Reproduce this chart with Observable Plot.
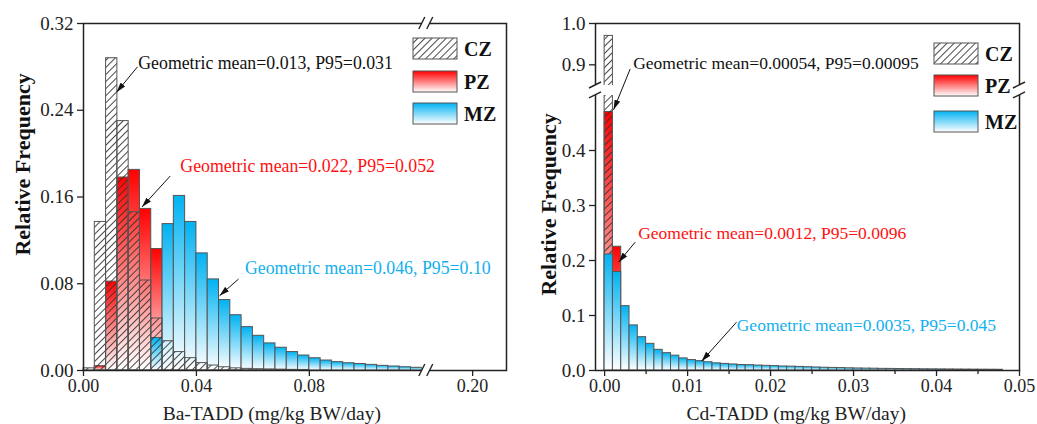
<!DOCTYPE html>
<html>
<head>
<meta charset="utf-8">
<script src="https://cdn.jsdelivr.net/npm/d3@7"></script>
<script src="https://cdn.jsdelivr.net/npm/@observablehq/plot@0.6"></script>
<style>
  html, body { margin: 0; padding: 0; background: #fff; }
  #wrap { position: relative; width: 1037px; height: 424px; overflow: hidden; }
  #left { position: absolute; left: 0; top: 0; }
  #right { position: absolute; left: 520px; top: 0; }
</style>
</head>
<body>
<div id="wrap"><div id="left"></div><div id="right"></div></div>
<script>
const FONT = "'Liberation Serif', 'Times New Roman', serif";

// ---------- Panel 1: Ba-TADD (bin width 0.004, starting at 0) ----------
const baBinWidth = 0.004;
const baCZ = [0.002, 0.137, 0.288, 0.230, 0.146, 0.083, 0.048, 0.027, 0.017, 0.0114, 0.0068, 0.0046, 0.003, 0.002, 0.0015, 0.0012, 0.001, 0.0008, 0.0006, 0.0005];
const baPZ = [0, 0.004, 0.082, 0.178, 0.185, 0.149, 0.112];
const baMZ = [0, 0, 0, 0, 0, 0, 0.030, 0.135, 0.161, 0.137, 0.108, 0.084, 0.065, 0.051, 0.040, 0.032, 0.025, 0.021, 0.017, 0.0138, 0.0113, 0.0092, 0.0077, 0.0067, 0.006, 0.0052, 0.0043, 0.0037, 0.003, 0.0025];
const baXTicks = [0, 0.04, 0.08, 0.20];
const baYTicks = [0, 0.08, 0.16, 0.24, 0.32];
const baBreak = [0.12, 0.185];   // x-axis break (values hidden between)
const baNotes = [
  {x: 0.0194, y: 0.2832, text: "Geometric mean=0.013, P95=0.031", color: "#111111"},
  {x: 0.0343, y: 0.1885, text: "Geometric mean=0.022, P95=0.052", color: "#ff1010"},
  {x: 0.0572, y: 0.0938, text: "Geometric mean=0.046, P95=0.10", color: "#12b0f0"}
];
const baArrows = [
  {x1: 0.0191, y1: 0.2800, x2: 0.0117, y2: 0.2566},
  {x1: 0.0307, y1: 0.1793, x2: 0.0207, y2: 0.1508},
  {x1: 0.0549, y1: 0.0843, x2: 0.0482, y2: 0.0690}
];

// ---------- Panel 2: Cd-TADD (bin width 0.001, starting at 0) ----------
const cdBinWidth = 0.001;
const cdCZ = [0.97];
const cdPZ = [0.47, 0.225];
const cdMZ = [0.211, 0.179, 0.117, 0.082, 0.0606, 0.0485, 0.0376, 0.0315, 0.027, 0.022, 0.019, 0.017, 0.015, 0.013, 0.012, 0.011, 0.010, 0.0097, 0.009, 0.0085, 0.008, 0.0073, 0.007, 0.0065, 0.006, 0.0055, 0.005, 0.0047, 0.0044, 0.004, 0.0037, 0.0035, 0.0033, 0.003, 0.0029, 0.0027, 0.0025, 0.0024, 0.0022, 0.0021, 0.002, 0.0019, 0.0018, 0.0017, 0.0016, 0.0015, 0.0014, 0.0013];
const cdXTicks = [0, 0.01, 0.02, 0.03, 0.04, 0.05];
const cdXMinor = [0.005, 0.015, 0.025, 0.035, 0.045];
const cdYTicks = [0, 0.1, 0.2, 0.3, 0.4, 0.9, 1.0];
const cdBreak = [0.5, 0.85];     // y-axis break
const cdNotes = [
  {x: 0.00344, y: 0.903, text: "Geometric mean=0.00054, P95=0.00095", color: "#111111"},
  {x: 0.00404, y: 0.249, text: "Geometric mean=0.0012, P95=0.0096", color: "#ff1010"},
  {x: 0.01592, y: 0.0818, text: "Geometric mean=0.0035, P95=0.045", color: "#12b0f0"}
];
const cdArrows = [
  {x1: 0.00308, y1: 0.890, x2: 0.00108, y2: 0.474},
  {x1: 0.00368, y1: 0.2333, x2: 0.00168, y2: 0.1969},
  {x1: 0.01589, y1: 0.0878, x2: 0.01169, y2: 0.0169}
];

const groups = ["CZ", "PZ", "MZ"];

// broken-axis transforms (continuous display units)
const baGap = 0.00283;
function baX(v) {
  return v <= baBreak[0] ? v
    : v < baBreak[1] ? baBreak[0] + (v - baBreak[0]) / (baBreak[1] - baBreak[0]) * baGap
    : v - baBreak[1] + baBreak[0] + baGap;
}
const cdGap = 0.01818, cdTopK = 0.7515;
function cdY(v) {
  return v <= cdBreak[0] ? v
    : v < cdBreak[1] ? cdBreak[0] + (v - cdBreak[0]) / (cdBreak[1] - cdBreak[0]) * cdGap
    : cdBreak[0] + cdGap + (v - cdBreak[1]) * cdTopK;
}
// tick values in display units, labelled with the original values
function brokenTicks(values, f, fmt) {
  const labels = new Map(values.map(v => [f(v), d3.format(fmt)(v)]));
  return {ticks: values.map(f), tickFormat: d => labels.get(d)};
}

function toBins(values, w) {
  return values.map((v, i) => ({x1: i * w, x2: (i + 1) * w, y: v})).filter(d => d.y > 0);
}

function addDefs(svg, p) {
  const defs = d3.select(svg).insert("defs", ":first-child");
  const red = defs.append("linearGradient").attr("id", p + "red").attr("x1", 0).attr("y1", 0).attr("x2", 0).attr("y2", 1);
  red.append("stop").attr("offset", "0%").attr("stop-color", "#ff0000");
  red.append("stop").attr("offset", "100%").attr("stop-color", "#ffffff");
  const blue = defs.append("linearGradient").attr("id", p + "blue").attr("x1", 0).attr("y1", 0).attr("x2", 0).attr("y2", 1);
  blue.append("stop").attr("offset", "0%").attr("stop-color", "#00b2f2");
  blue.append("stop").attr("offset", "100%").attr("stop-color", "#ffffff");
  const hatch = defs.append("pattern").attr("id", p + "hatch").attr("patternUnits", "userSpaceOnUse")
    .attr("width", 5).attr("height", 5).attr("patternTransform", "rotate(45)");
  hatch.append("line").attr("x1", 2.5).attr("y1", 0).attr("x2", 2.5).attr("y2", 5)
    .attr("stroke", "#333").attr("stroke-width", 0.9);
  const m = defs.append("marker").attr("id", p + "ah").attr("viewBox", "0 0 10 6")
    .attr("refX", 10).attr("refY", 3).attr("markerWidth", 10).attr("markerHeight", 6)
    .attr("orient", "auto").attr("markerUnits", "userSpaceOnUse");
  m.append("path").attr("d", "M0,0L10,3L0,6Z").attr("fill", "#111");
}

function finish(plot, p, legendX, legendYs) {
  addDefs(plot, p);
  const s = d3.select(plot);
  s.selectAll("." + p + "arrow path").attr("marker-end", `url(#${p}ah)`);
  const fills = [`url(#${p}hatch)`, `url(#${p}red)`, `url(#${p}blue)`];
  const lg = s.append("g");
  groups.forEach((g, i) => {
    lg.append("rect").attr("x", legendX).attr("y", legendYs[i]).attr("width", 44).attr("height", 21)
      .attr("fill", "#fff");
    lg.append("rect").attr("x", legendX).attr("y", legendYs[i]).attr("width", 44).attr("height", 21)
      .attr("fill", fills[i]).attr("stroke", "#555").attr("stroke-width", 1);
    lg.append("text").attr("x", legendX + 51).attr("y", legendYs[i] + 10.5).attr("dy", "0.35em")
      .attr("text-anchor", "start")
      .attr("font-family", FONT).attr("font-weight", "bold").attr("font-size", 20).attr("fill", "#111")
      .text(g);
  });
}

function breakH(s, xa, xb, y) {
  const g = s.append("g");
  g.append("rect").attr("x", xa).attr("y", y - 6).attr("width", xb - xa).attr("height", 12).attr("fill", "#fff");
  [xa, xb].forEach(x => g.append("line").attr("x1", x - 3).attr("y1", y + 6).attr("x2", x + 3).attr("y2", y - 6)
    .attr("stroke", "#222").attr("stroke-width", 1.4));
}
function breakV(s, x, ya, yb, w1, w2) {
  const g = s.append("g");
  g.append("rect").attr("x", x - w1).attr("y", ya).attr("width", w1 + w2).attr("height", yb - ya).attr("fill", "#fff");
  [ya, yb].forEach(y => g.append("line").attr("x1", x - 6).attr("y1", y + 3).attr("x2", x + 6).attr("y2", y - 3)
    .attr("stroke", "#222").attr("stroke-width", 1.4));
}
function pixelScale(sc) { return d3.scaleLinear(sc.domain, sc.range); }

const common = {
  style: {fontFamily: FONT, color: "#222", background: "transparent", overflow: "visible"},
  color: {type: "identity"}
};

// ---------- Left ----------
const left = Plot.plot({
  ...common,
  width: 520, height: 424,
  marginLeft: 83, marginRight: 14, marginTop: 23, marginBottom: 54,
  x: {transform: baX, domain: [0, baX(0.212)]},
  y: {domain: [0, 0.32]},
  marks: [
    Plot.rectY(toBins(baPZ, baBinWidth), {x1: "x1", x2: "x2", y1: 0, y2: "y", fill: "url(#bared)", stroke: "#555", strokeWidth: 1}),
    Plot.rectY(toBins(baMZ, baBinWidth), {x1: "x1", x2: "x2", y1: 0, y2: "y", fill: "url(#bablue)", stroke: "#555", strokeWidth: 1}),
    Plot.rectY(toBins(baCZ, baBinWidth), {x1: "x1", x2: "x2", y1: 0, y2: "y", fill: "url(#bahatch)", stroke: "#555", strokeWidth: 1}),
    Plot.frame({stroke: "#222", strokeWidth: 1.5}),
    Plot.axisY({ticks: baYTicks, tickFormat: d3.format(".2f"), tickSize: 6, tickPadding: 4, fontSize: 19, label: null, strokeWidth: 1.3}),
    Plot.axisX({...brokenTicks(baXTicks, baX, ".2f"), tickSize: 6, tickPadding: 3, fontSize: 18, label: null, strokeWidth: 1.3}),
    Plot.text(["Relative Frequency"], {frameAnchor: "left", y: 0.19, dx: -61, rotate: -90, textAnchor: "middle", lineAnchor: "middle", fontWeight: "bold", fontSize: 22, fill: "#111"}),
    Plot.text(["Ba-TADD (mg/kg BW/day)"], {frameAnchor: "bottom", x: 0.0667, dy: 43, textAnchor: "middle", lineAnchor: "middle", fontSize: 19.5, fill: "#222"}),
    Plot.text(baNotes, {x: "x", y: "y", text: "text", fill: "color", textAnchor: "start", fontSize: 17.8}),
    Plot.link(baArrows, {x1: "x1", y1: "y1", x2: "x2", y2: "y2", stroke: "#111", strokeWidth: 1, className: "baarrow"})
  ]
});
finish(left, "ba", 413, [38, 71, 103]);
{
  const s = d3.select(left);
  const px = pixelScale(left.scale("x")), py = pixelScale(left.scale("y"));
  const xa = px(baX(baBreak[0])), xb = px(baX(baBreak[1]));
  breakH(s, xa, xb, py(0.32));
  breakH(s, xa, xb, py(0));
}
document.getElementById("left").append(left);

// ---------- Right ----------
const right = Plot.plot({
  ...common,
  width: 517, height: 424,
  marginLeft: 75, marginRight: 18, marginTop: 23, marginBottom: 54,
  x: {domain: [-0.0011, 0.05]},
  y: {transform: cdY, domain: [0, cdY(1.0)]},
  marks: [
    Plot.rectY(toBins(cdPZ, cdBinWidth), {x1: "x1", x2: "x2", y1: 0, y2: "y", fill: "url(#cdred)", stroke: "#555", strokeWidth: 1}),
    Plot.rectY(toBins(cdCZ, cdBinWidth), {x1: "x1", x2: "x2", y1: 0, y2: "y", fill: "url(#cdhatch)", stroke: "#555", strokeWidth: 1}),
    Plot.rectY(toBins(cdMZ, cdBinWidth), {x1: "x1", x2: "x2", y1: 0, y2: "y", fill: "url(#cdblue)", stroke: "#555", strokeWidth: 1}),
    Plot.frame({stroke: "#222", strokeWidth: 1.5}),
    Plot.axisY({...brokenTicks(cdYTicks, cdY, ".1f"), tickSize: 6, tickPadding: 4, fontSize: 19, label: null, strokeWidth: 1.3}),
    Plot.axisX({ticks: cdXTicks, tickFormat: d3.format(".2f"), tickSize: 6, tickPadding: 3, fontSize: 18, label: null, strokeWidth: 1.3}),
    Plot.axisX({ticks: cdXMinor, tickSize: 4, text: null, label: null, strokeWidth: 1.3}),
    Plot.text(["Relative Frequency"], {frameAnchor: "left", y: 0.302, dx: -47, rotate: -90, textAnchor: "middle", lineAnchor: "middle", fontWeight: "bold", fontSize: 22, fill: "#111"}),
    Plot.text(["Cd-TADD (mg/kg BW/day)"], {frameAnchor: "bottom", x: 0.0231, dy: 43, textAnchor: "middle", lineAnchor: "middle", fontSize: 19.5, fill: "#222"}),
    Plot.text(cdNotes, {x: "x", y: "y", text: "text", fill: "color", textAnchor: "start", fontSize: 17.5}),
    Plot.link(cdArrows, {x1: "x1", y1: "y1", x2: "x2", y2: "y2", stroke: "#111", strokeWidth: 1, className: "cdarrow"})
  ]
});
finish(right, "cd", 414, [43, 75, 111]);
{
  const s = d3.select(right);
  const px = pixelScale(right.scale("x")), py = pixelScale(right.scale("y"));
  const ya = py(cdY(cdBreak[1])), yb = py(cdY(cdBreak[0]));
  const x0 = px(-0.0011), xEnd = px(0.05);
  breakV(s, x0, ya, yb, 7, px(cdBinWidth) - x0 + 2);
  breakV(s, xEnd, ya, yb, 7, 7);
}
document.getElementById("right").append(right);
</script>
</body>
</html>
